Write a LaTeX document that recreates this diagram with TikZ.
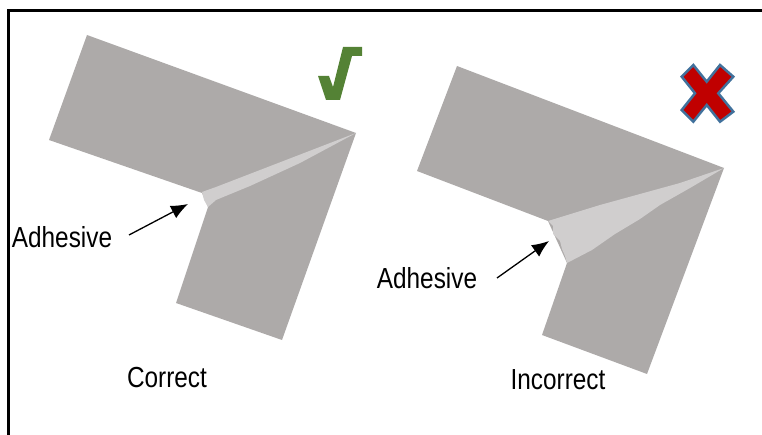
\documentclass[tikz,border=0pt]{standalone}
\usepackage{graphicx}
\usepackage{fontspec}
\setmainfont{Liberation Sans}
\usetikzlibrary{arrows.meta}

\definecolor{partgray}{HTML}{ADAAA9}
\definecolor{gluegray}{HTML}{D0CECE}
\definecolor{okgreen}{HTML}{548235}
\definecolor{badred}{HTML}{C00000}
\definecolor{badblue}{HTML}{41719C}

\newcommand{\narrowtext}[1]{\scalebox{0.84}[1]{#1}}

\begin{document}
\begin{tikzpicture}[x=1pt,y=-1pt]
\tikzset{ >={Latex[length=17pt,width=14pt]},
  part/.style={fill=partgray},
  glue/.style={fill=gluegray},
  lbl/.style={font=\fontsize{29}{32}\selectfont, inner sep=0pt},
  ptr/.style={->, line width=1.3pt},
}
\useasboundingbox (0,0) rectangle (762,435);

% open frame
\draw [line width=3pt] (8.5,445) -- (8.5,10.5) -- (770,10.5);

%% left joint: thin glue line
\fill [part] (87,35) -- (356,133) -- (282,340) -- (176,303) -- (208,207) -- (202,193) -- (49,140) -- cycle;
\fill [glue] (202,192) -- (216,187) -- (356,133) -- (300,163) -- (250,186) -- (216,200) -- (208,207) -- (204,200) -- cycle;

% check mark
\fill [okgreen] (318,76) -- (329,76) -- (333,87) -- (343,47) -- (362,47) -- (362,56) -- (352,56) -- (340,100) -- (326,100) -- cycle;

\node [lbl] (adhL) at (62,237) {\narrowtext{Adhesive}};
\node [lbl] (okL)  at (167,378) {\narrowtext{Correct}};
\coordinate (tailL) at (129,235);
\coordinate (glueL) at (188,204);
\draw [ptr] (tailL) -- (glueL);

%% right joint: thick glue wedge
\fill [part] (457,66) -- (724,168) -- (647,374) -- (542,335) -- (567,263) -- (548,221) -- (417,171) -- cycle;
\fill [glue] (548,221) -- (600,205) -- (640,194) -- (680,183) -- (724,168)
  -- (690,188) -- (660,205) -- (640,219) -- (615,234) -- (592,250) -- (567,263)
  -- (565,256) -- (562,249) -- (560,241) -- (553,234) -- (553,226) -- cycle;

% cross
\filldraw [fill=badred, draw=badblue, line width=2.5pt, line join=miter]
  (693.3,65) -- (706.7,81.7) -- (720,65) -- (733.3,76.7) -- (718.3,93.3) -- (733.3,111.7)
  -- (720,121.7) -- (706.7,105) -- (693.3,121.7) -- (681.7,110) -- (695,93.3) -- (681.7,76.7) -- cycle;

\node [lbl] (adhR) at (427,278) {\narrowtext{Adhesive}};
\node [lbl] (badR) at (558,380) {\narrowtext{Incorrect}};
\coordinate (tailR) at (497,278);
\coordinate (glueR) at (549,241);
\draw [ptr] (tailR) -- (glueR);

\end{tikzpicture}
\end{document}
